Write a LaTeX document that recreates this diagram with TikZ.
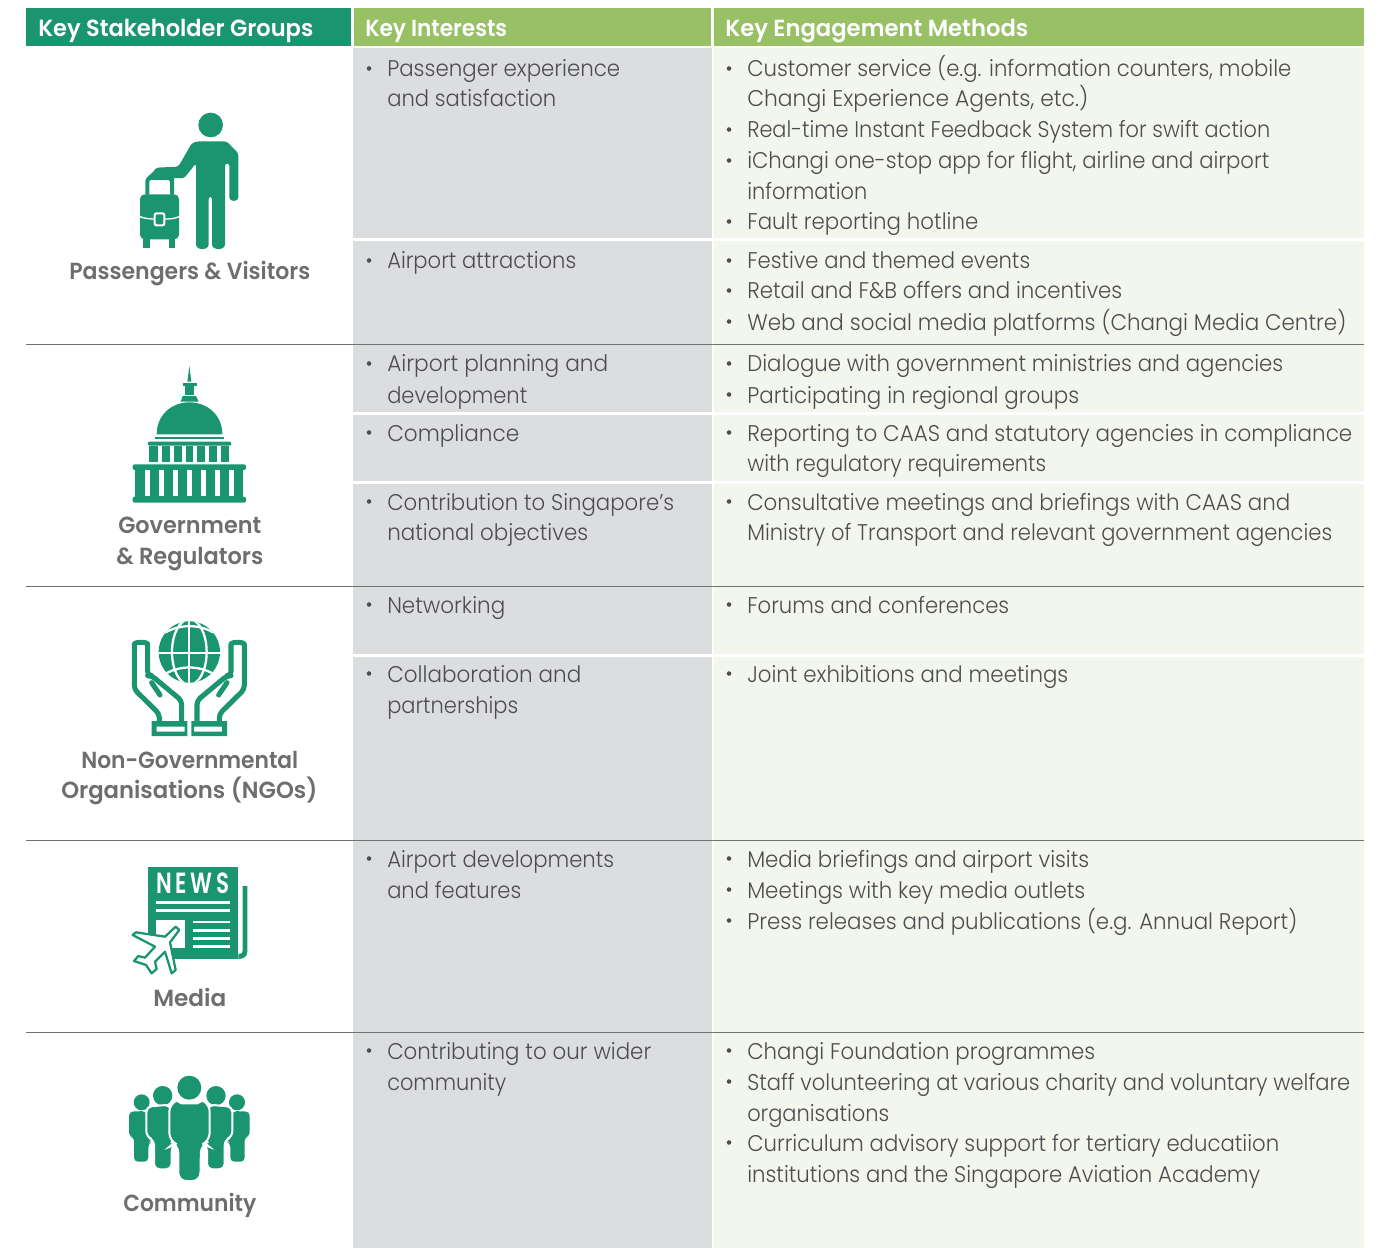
\documentclass[tikz,border=0pt]{standalone}
\usepackage{graphicx}
\usepackage{fontspec}
\setmainfont{Poppins}[UprightFont=* Light,BoldFont=* SemiBold]
\definecolor{hdrteal}{HTML}{1A9570}
\definecolor{hdrgreen}{HTML}{97C164}
\definecolor{greybg}{HTML}{DCDDDE}
\definecolor{palebg}{HTML}{F3F6EC}
\definecolor{txt}{HTML}{4D4D4F}
\definecolor{lbl}{HTML}{6D6E70}
\definecolor{rule}{HTML}{6F7472}
\newcounter{tln}
\tikzset{
  celltxt/.style={inner sep=0pt,text=txt,font=\fontsize{17}{20}\selectfont},
  hdrtxt/.style={inner sep=0pt,text=white,font=\fontsize{17.5}{20}\selectfont\bfseries},
  grptxt/.style={inner sep=0pt,text=lbl,font=\fontsize{17.5}{20}\selectfont\bfseries},
  bul/.style={circle,fill=txt,inner sep=0pt,minimum size=3.4pt},
  icon/.style={x=0.25pt,y=-0.25pt},
  iconfill/.style={fill=hdrteal,draw=none},
  gap/.style={fill=white,draw=none},
  halo/.style={fill=hdrteal,draw=white,line width=1.5pt},
}
% [style] xleft xright centre-y text
\newcommand{\tline}[5][celltxt]{\stepcounter{tln}%
  \node[#1,anchor=base west] (t\arabic{tln}) at (#2,#4+8) {\resizebox{\dimexpr #3pt*3/4-#2pt*3/4\relax}{\height}{#5}};}
\newcommand{\bline}[5][celltxt]{\stepcounter{tln}%
  \node[bul] (b\arabic{tln}) at (#2-18,#4-0.5) {};\tline[#1]{#2}{#3}{#4}{#5}}
\begin{document}
\begin{tikzpicture}[x=0.75pt,y=-0.75pt]
\useasboundingbox (0,0) rectangle (1382,1248);
% backgrounds
\fill[greybg] (353,48) rectangle (712,1248);
\fill[palebg] (714,48) rectangle (1364,1248);
\fill[white] (353,238.5) rectangle (1364,241.5);
\fill[white] (353,411.5) rectangle (1364,414.5);
\fill[white] (353,480.5) rectangle (1364,483.5);
\fill[white] (353,653.5) rectangle (1364,656.5);
% header
\fill[hdrteal] (26,8) rectangle (351,46);
\fill[hdrgreen] (354,8) rectangle (711,46);
\fill[hdrgreen] (714,8) rectangle (1364,46);
% rules
\foreach \yy in {344.5,586.5,840.5,1032.5}{\draw[rule,line width=0.75pt] (26,\yy) -- (1364,\yy);}
% header text
\tline[hdrtxt]{38}{313}{29}{Key Stakeholder Groups}
\tline[hdrtxt]{365}{507}{29}{Key Interests}
\tline[hdrtxt]{725}{1028}{29}{Key Engagement Methods}
% group labels
\tline[grptxt]{69}{310}{272}{Passengers \& Visitors}
\tline[grptxt]{118}{261}{525}{Government}
\tline[grptxt]{116}{263}{556}{\& Regulators}
\tline[grptxt]{81}{298}{760}{Non-Governmental}
\tline[grptxt]{61}{317}{790}{Organisations (NGOs)}
\tline[grptxt]{153}{226}{998}{Media}
\tline[grptxt]{123}{256}{1203}{Community}
% column 2
\bline{387}{620}{69}{Passenger experience}
\tline{387}{556}{99}{and satisfaction}
\bline{387}{576}{261}{Airport attractions}
\bline{387}{608}{364}{Airport planning and}
\tline{387}{527}{395}{development}
\bline{387}{519}{433}{Compliance}
\bline{387}{674}{502}{Contribution to Singapore’s}
\tline{387}{588}{532}{national objectives}
\bline{387}{505}{605}{Networking}
\bline{387}{581}{674}{Collaboration and}
\tline{387}{518}{705}{partnerships}
\bline{387}{614}{859}{Airport developments}
\tline{387}{521}{890}{and features}
\bline{387}{651}{1051}{Contributing to our wider}
\tline{387}{506}{1082}{community}
% column 3
\bline{747}{1291}{69}{Customer service (e.g. information counters, mobile}
\tline{747}{1088}{99}{Changi Experience Agents, etc.)}
\bline{747}{1270}{130}{Real-time Instant Feedback System for swift action}
\bline{747}{1269}{161}{iChangi one-stop app for flight, airline and airport}
\tline{747}{867}{192}{information}
\bline{747}{978}{222}{Fault reporting hotline}
\bline{747}{1030}{261}{Festive and themed events}
\bline{747}{1122}{291}{Retail and F\&B offers and incentives}
\bline{747}{1346}{322}{Web and social media platforms (Changi Media Centre)}
\bline{747}{1283}{364}{Dialogue with government ministries and agencies}
\bline{747}{1079}{395}{Participating in regional groups}
\bline{747}{1352}{433}{Reporting to CAAS and statutory agencies in compliance}
\tline{747}{1046}{463}{with regulatory requirements}
\bline{747}{1290}{502}{Consultative meetings and briefings with CAAS and}
\tline{747}{1332}{532}{Ministry of Transport and relevant government agencies}
\bline{747}{1009}{605}{Forums and conferences}
\bline{747}{1068}{674}{Joint exhibitions and meetings}
\bline{747}{1089}{859}{Media briefings and airport visits}
\bline{747}{1085}{890}{Meetings with key media outlets}
\bline{747}{1297}{921}{Press releases and publications (e.g. Annual Report)}
\bline{747}{1095}{1051}{Changi Foundation programmes}
\bline{747}{1350}{1082}{Staff volunteering at various charity and voluntary welfare}
\tline{747}{889}{1113}{organisations}
\bline{747}{1279}{1143}{Curriculum advisory support for tertiary educatiion}
\tline{747}{1260}{1174}{institutions and the Singapore Aviation Academy}
% --- passenger icon
\begin{scope}[shift={(110,100)},icon]
\fill[iconfill] (302,75) circle (37);
\fill[iconfill,rounded corners=2pt] (110,232) -- (130,216) -- (138,203) -- (205,200) -- (245,130) -- (262,124) -- (350,124) -- (385,160) -- (385,285) .. controls (385,306) and (358,306) .. (358,285) -- (358,190) -- (345,190) -- (345,425) .. controls (345,452) and (306,452) .. (306,425) -- (306,290) -- (296,290) -- (296,425) .. controls (296,452) and (258,452) .. (258,425) -- (258,190) -- (222,235) -- cycle;
\fill[iconfill,rounded corners=1pt] (106,285) -- (106,238) -- (118,226) -- (192,226) -- (192,285) -- (180,285) -- (180,240) -- (118,240) -- (118,285) -- cycle;
\fill[iconfill,rounded corners=3.5pt] (90,283) rectangle (207,418);
\fill[iconfill] (100,415) rectangle (119,445);
\fill[iconfill] (177,415) rectangle (196,445);
\draw[white,line width=1pt] (90,350) .. controls (105,356) and (120,357) .. (133,357);
\draw[white,line width=1pt] (165,357) .. controls (180,357) and (195,356) .. (207,350);
\draw[white,line width=1.6pt,rounded corners=1.5pt] (134,340) rectangle (163,376);
\end{scope}
% --- capitol icon
\begin{scope}[shift={(110,355)},icon]
\fill[iconfill] (238,33) -- (244,80) -- (232,80) -- cycle;
\fill[iconfill] (220,85) rectangle (260,92);
\fill[iconfill] (225,92) rectangle (253,120);
\fill[iconfill] (218,123) -- (258,123) -- (266,140) -- (212,140) -- cycle;
\fill[iconfill] (140,238) .. controls (140,180) and (185,142) .. (238,142) .. controls (292,142) and (337,180) .. (337,238) -- cycle;
\fill[iconfill] (135,245) rectangle (342,252);
\fill[iconfill,rounded corners=1.5pt] (113,260) rectangle (364,272);
\fill[iconfill] (118,272) rectangle (358,322);
\foreach \gx in {143,180,217,250,286,322}{\fill[gap] (\gx,274) rectangle +(12,48);}
\fill[iconfill,rounded corners=1.5pt] (68,328) rectangle (408,345);
\fill[iconfill,rounded corners=1.5pt] (68,425) rectangle (408,443);
\fill[iconfill] (75,345) rectangle (400,425);
\foreach \gx in {105,148,190,232,274,315,357}{\fill[gap] (\gx,346) rectangle +(15,78);}
\end{scope}
% --- globe and hands icon
\begin{scope}[shift={(110,610)},icon]
\fill[iconfill] (238,126) circle (92);
\begin{scope}
\clip (238,126) circle (92);
\draw[white,line width=1.7pt] (238,30) -- (238,225);
\draw[white,line width=1.7pt] (140,130) -- (335,130);
\draw[white,line width=1.7pt] (238,126) ellipse (52 and 98);
\draw[white,line width=1.7pt] (165,68) .. controls (210,42) and (266,42) .. (311,68);
\draw[white,line width=1.7pt] (165,192) .. controls (210,166) and (266,166) .. (311,192);
\end{scope}
\foreach \sx/\off in {1/0,-1/476}{
\begin{scope}[xshift=\off*0.25pt,x=\sx*0.25pt]
\draw[hdrteal,line width=3.8pt,line join=round,rounded corners=3pt] (148,338) -- (148,312) -- (73,238) -- (73,115) .. controls (73,95) and (113,95) .. (113,115) -- (113,197) -- (125,197) -- (215,272) -- (215,338);
\draw[hdrteal,line width=3.8pt,line cap=round] (125,218) -- (150,255);
\fill[hdrteal,even odd rule] (125,333) rectangle (232,378) (140,350) rectangle (224,365);
\end{scope}}
\end{scope}
% --- news icon
\begin{scope}[shift={(110,855)},icon]
\fill[iconfill] (115,35) rectangle (385,312);
\fill[white] (105,235) -- (150,265) -- (165,290) -- (176,320) -- (105,320) -- cycle;
\fill[iconfill] (398,93) -- (412,93) -- (412,290) .. controls (412,305) and (400,312) .. (385,312) -- (385,297) .. controls (393,297) and (398,295) .. (398,288) -- cycle;
\node[inner sep=0pt,text=white,font=\fontsize{16}{16}\selectfont\bfseries] (newsword) at (249,85) {\resizebox{54.5pt}{15.5pt}{N\,E\,W\,S}};
\fill[white] (137,139) rectangle (360,147);
\fill[white] (137,163) rectangle (360,171);
\fill[white] (137,195) rectangle (225,278);
\foreach \ly in {197,222,247,270}{\fill[white] (250,\ly) rectangle (360,\ly+8);}
\draw[hdrteal,fill=white,line width=1.7pt,line join=round] (208,225) -- (197,215) -- (165,245) -- (78,232) -- (68,240) -- (135,275) -- (105,308) -- (85,303) -- (72,318) -- (108,330) -- (125,355) -- (140,342) -- (135,320) -- (165,290) -- (185,355) -- (197,345) -- (180,262) -- cycle;
\end{scope}
% --- community icon
\begin{scope}[shift={(110,1065)},icon]
\foreach \sx/\off in {1/0,-1/476}{
\begin{scope}[xshift=\off*0.25pt,x=\sx*0.25pt]
\fill[iconfill] (95,112) circle (24);
\fill[iconfill,rounded corners=3pt] (57,215) -- (57,140) -- (108,138) -- (125,230) -- (115,235) -- (115,290) -- (72,290) -- (72,215) -- cycle;
\fill[gap] (158,92) circle (33);
\fill[iconfill] (158,92) circle (29);
\draw[halo,rounded corners=4pt] (109,215) -- (109,125) -- (181,119) -- (193,240) -- (185,243) -- (185,313) -- (132,313) -- (132,225) -- cycle;
\end{scope}}
\fill[gap] (238,68) circle (40);
\fill[iconfill] (238,68) circle (36);
\draw[halo,rounded corners=6pt] (178,228) -- (178,115) .. controls (200,107) and (215,115) .. (238,115) .. controls (262,115) and (278,107) .. (299,115) -- (299,228) -- (273,240) -- (271,348) -- (205,348) -- (205,240) -- cycle;
\end{scope}
\end{tikzpicture}
\end{document}
